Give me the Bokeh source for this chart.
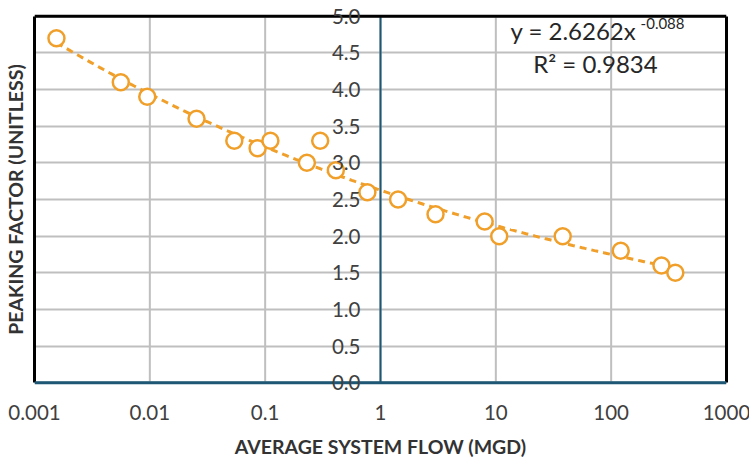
import numpy as np
from bokeh.plotting import figure
from bokeh.models import (FixedTicker, CustomJSTickFormatter, Label, Span, LinearAxis,
                          ColumnDataSource, Range1d)
from bokeh.embed import file_html
from bokeh.resources import INLINE

# ---- data ----
flow_mgd = [0.00155, 0.0056, 0.0095, 0.0254, 0.054, 0.086, 0.111, 0.23, 0.30,
            0.41, 0.77, 1.42, 3.0, 8.0, 10.7, 38.0, 121.0, 273.0, 360.0]
peaking_factor = [4.7, 4.1, 3.9, 3.6, 3.3, 3.2, 3.3, 3.0, 3.3,
                  2.9, 2.6, 2.5, 2.3, 2.2, 2.0, 2.0, 1.8, 1.6, 1.5]
fit_coef = 2.6262
fit_exp = -0.088
r_squared = 0.9834
x_ticks = [0.001, 0.01, 0.1, 1, 10, 100, 1000]
y_ticks = [0.0, 0.5, 1.0, 1.5, 2.0, 2.5, 3.0, 3.5, 4.0, 4.5, 5.0]
y_axis_at = 1

ORANGE = "#F0A02A"
BLUE = "#1D5775"
GRID = "#BFBFBF"
FONT = "Lato"
TXT = "#404040"

y_lo, y_hi = y_ticks[0], y_ticks[-1]
pad = 0.2  # room so the value labels at 0.0 and 5.0 are not clipped

p = figure(x_axis_type="log", x_range=Range1d(x_ticks[0], x_ticks[-1]),
           y_range=Range1d(y_lo - pad, y_hi + pad),
           frame_width=692, frame_height=396,
           min_border_left=33, min_border_right=24, min_border_top=1, min_border_bottom=64,
           output_backend="svg", toolbar_location=None, background_fill_color="white")
p.outline_line_color = None

# grids
p.xgrid.visible = False
p.ygrid.ticker = FixedTicker(ticks=y_ticks)
p.ygrid.grid_line_color = GRID
p.ygrid.grid_line_width = 2
p.segment(x0=x_ticks, y0=[y_lo] * len(x_ticks), x1=x_ticks, y1=[y_hi] * len(x_ticks),
          line_color=GRID, line_width=2, level="underlay")

# x axis (labels + title only)
xa = p.xaxis[0]
xa.ticker = FixedTicker(ticks=x_ticks)
xa.formatter = CustomJSTickFormatter(code="return tick.toString();")
xa.axis_line_color = None
xa.major_tick_line_color = None
xa.minor_tick_line_color = None
xa.major_label_standoff = 1
xa.major_label_text_font = FONT
xa.major_label_text_font_size = "20.5px"
xa.major_label_text_color = TXT
xa.axis_label = "AVERAGE SYSTEM FLOW (MGD)"
xa.axis_label_text_font = FONT
xa.axis_label_text_font_style = "bold"
xa.axis_label_text_font_size = "19.5px"
xa.axis_label_text_color = "#333333"
xa.axis_label_standoff = 12

# default y axis: left border + title
ya = p.yaxis[0]
ya.ticker = FixedTicker(ticks=[])
ya.bounds = (y_lo, y_hi)
ya.axis_line_color = "black"
ya.axis_line_width = 3
ya.major_tick_line_color = None
ya.minor_tick_line_color = None
ya.major_tick_out = 0
ya.major_label_standoff = 0
ya.axis_label = "PEAKING FACTOR (UNITLESS)"
ya.axis_label_text_font = FONT
ya.axis_label_text_font_style = "bold"
ya.axis_label_text_font_size = "19.5px"
ya.axis_label_text_color = "#333333"
ya.axis_label_standoff = 8

# right border
ra = LinearAxis(ticker=FixedTicker(ticks=[]), bounds=(y_lo, y_hi),
                axis_line_color="black", axis_line_width=3,
                major_tick_out=0, major_label_standoff=0,
                major_tick_line_color=None, minor_tick_line_color=None)
p.add_layout(ra, "right")

# top border and bottom (category) axis line
p.add_layout(Span(location=y_hi, dimension="width", line_color="black", line_width=3))
p.add_layout(Span(location=y_lo, dimension="width", line_color=BLUE, line_width=3))

# value axis line at x = 1 with its labels
p.segment(x0=[y_axis_at], y0=[y_lo], x1=[y_axis_at], y1=[y_hi], line_color=BLUE, line_width=2)
for v in y_ticks:
    p.add_layout(Label(x=y_axis_at, y=v, text=f"{v:.1f}", x_offset=-20,
                       text_align="right", text_baseline="middle",
                       text_font=FONT, text_font_size="20.5px", text_color=TXT))

# trend line from the displayed power fit
xf = np.logspace(np.log10(min(flow_mgd)), np.log10(max(flow_mgd)), 200)
yf = fit_coef * xf ** fit_exp
p.line(xf, yf, line_color=ORANGE, line_width=3, line_dash="7 5")

src = ColumnDataSource(data=dict(x=flow_mgd, y=peaking_factor))
p.scatter("x", "y", source=src, size=16, fill_color="white", line_color=ORANGE, line_width=2.5)

# equation labels
p.add_layout(Label(x=13.4, y=4.8, text=f"y = {fit_coef}x", text_font=FONT, text_font_size="24px",
                   text_color="#262626", text_baseline="middle", text_align="left"))
p.add_layout(Label(x=180, y=4.9, text=f"{fit_exp}", text_font=FONT, text_font_size="15px",
                   text_color="#262626", text_baseline="middle", text_align="left"))
p.add_layout(Label(x=73, y=4.35, text=f"R² = {r_squared}", text_font=FONT, text_font_size="24px",
                   text_color="#262626", text_baseline="middle", text_align="center"))

open("out.html", "w").write(file_html(p, INLINE))
